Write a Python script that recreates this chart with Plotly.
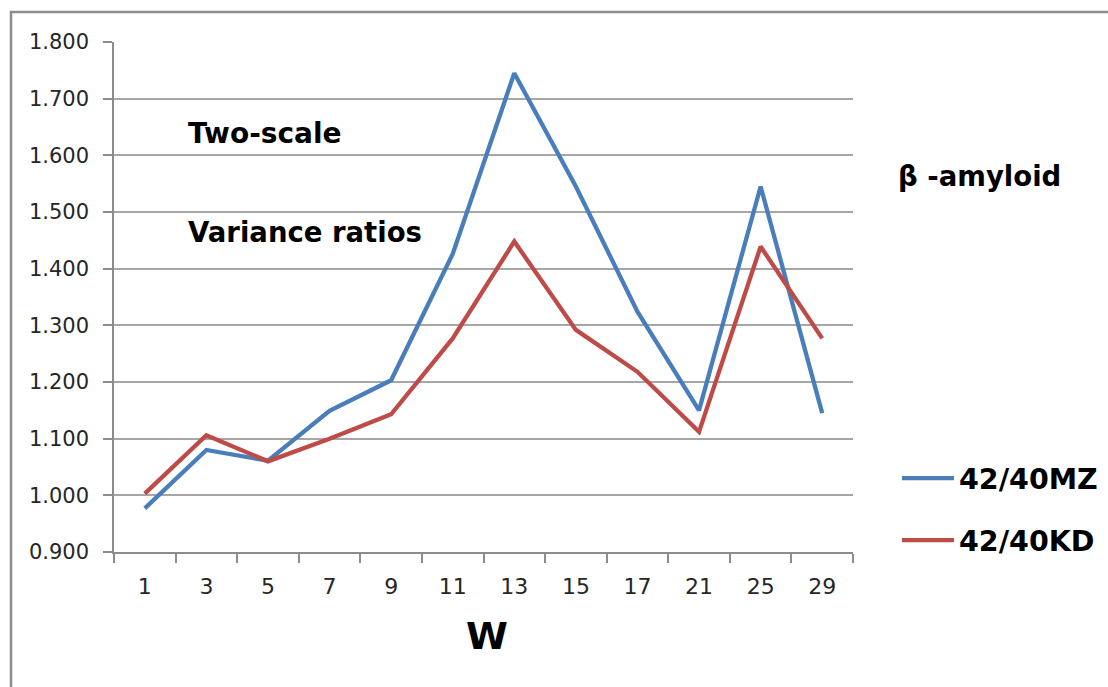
import plotly.graph_objects as go

# Window sizes (W) along the category axis
w_labels = ["1", "3", "5", "7", "9", "11", "13", "15", "17", "21", "25", "29"]

# Two-scale variance ratios of beta-amyloid 42/40
mz_ratio = [0.977, 1.080, 1.061, 1.149, 1.203, 1.426, 1.745, 1.545, 1.324, 1.150, 1.545, 1.145]
kd_ratio = [1.003, 1.106, 1.060, 1.100, 1.143, 1.277, 1.448, 1.292, 1.218, 1.112, 1.439, 1.277]

y_ticks = [0.9, 1.0, 1.1, 1.2, 1.3, 1.4, 1.5, 1.6, 1.7, 1.8]

W, H = 1108, 687
L, R, T, B = 114, 255, 42, 135
pw, ph = W - L - R, H - T - B


def px_x(x):
    return (x - L) / pw


def px_y(y):
    return (H - B - y) / ph


fig = go.Figure()
fig.add_trace(go.Scatter(x=w_labels, y=mz_ratio, mode="lines", name="<b>42/40MZ</b>",
                         legendgroup="mz", line=dict(color="#4A7EBB", width=4.3)))
fig.add_trace(go.Scatter(x=w_labels, y=kd_ratio, mode="lines", name="<b>42/40KD</b>",
                         legendgroup="kd", line=dict(color="#BE4B48", width=4.3)))

grey = "#8C8C8C"
fig.update_xaxes(type="category", showgrid=False, showline=True, linecolor=grey, linewidth=1.5,
                 ticks="outside", tickson="boundaries", ticklen=9, tickcolor=grey, tickwidth=1.5,
                 tickfont=dict(family="DejaVu Sans", size=22, color="#262626"),
                 ticklabelstandoff=14, range=[-0.5, 11.5])
fig.update_yaxes(range=[0.9, 1.8], tickvals=y_ticks, tickformat=".3f",
                 showgrid=True, gridcolor="#A6A6A6", gridwidth=1.5,
                 showline=True, linecolor=grey, linewidth=1.5,
                 ticks="outside", ticklen=9, tickcolor=grey, tickwidth=1.5,
                 tickfont=dict(family="DejaVu Sans", size=21, color="#262626"),
                 ticklabelstandoff=10, zeroline=False)

bold = dict(family="DejaVu Sans", size=28, color="#000000")
annotations = [
    dict(text="<b>Two-scale</b>", x=px_x(186), y=px_y(133), xanchor="left", yanchor="middle", font=bold),
    dict(text="<b>Variance ratios</b>", x=px_x(186), y=px_y(232), xanchor="left", yanchor="middle",
         font=dict(family="DejaVu Sans", size=27.5, color="#000000")),
    dict(text="<b>β -amyloid</b>", x=px_x(896), y=px_y(176), xanchor="left", yanchor="middle",
         font=dict(family="DejaVu Sans", size=27.5, color="#000000")),
    dict(text="<b>W</b>", x=px_x(487), y=px_y(636), xanchor="center", yanchor="middle",
         font=dict(family="DejaVu Sans", size=38, color="#000000")),
]
for a in annotations:
    a.update(xref="paper", yref="paper", showarrow=False)

fig.update_layout(
    width=W, height=H,
    margin=dict(l=L, r=R, t=T, b=B, pad=0, autoexpand=False),
    plot_bgcolor="white", paper_bgcolor="white",
    annotations=annotations,
    showlegend=True,
    legend=dict(x=px_x(897), y=px_y(453), xanchor="left", yanchor="top",
                font=dict(family="DejaVu Sans", size=28.5, color="#000000"),
                tracegroupgap=22, itemwidth=52, bgcolor="rgba(0,0,0,0)"),
    shapes=[dict(type="rect", xref="paper", yref="paper",
                 x0=px_x(11), x1=px_x(W + 20), y0=px_y(H + 20), y1=px_y(12),
                 line=dict(color=grey, width=2.5), fillcolor="rgba(0,0,0,0)", layer="below")],
)

fig.write_html("out.html")
